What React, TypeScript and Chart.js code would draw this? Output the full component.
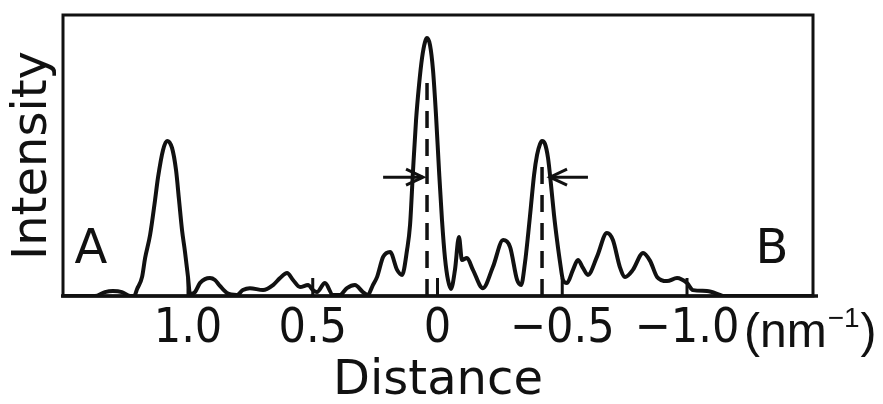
import React, { useEffect, useRef } from "react";
import { Chart, registerables } from "chart.js";

Chart.register(...registerables);

// Distance (nm^-1), axis runs from +1.5 (left) to -1.5 (right)
const distance = [
  1.501, 1.373, 1.333, 1.301, 1.265, 1.232, 1.216, 1.204, 1.184, 1.172, 1.152, 1.132, 1.12, 1.1,
  1.084, 1.064, 1.048, 1.036, 1.024, 1.012, 1.0, 0.992, 0.972, 0.952, 0.932, 0.912, 0.892, 0.872,
  0.844, 0.804, 0.78, 0.752, 0.699, 0.659, 0.631, 0.603, 0.579, 0.551, 0.519, 0.499, 0.483, 0.451,
  0.419, 0.391, 0.363, 0.331, 0.299, 0.279, 0.259, 0.242, 0.218, 0.19, 0.162, 0.142, 0.122, 0.11,
  0.098, 0.086, 0.074, 0.062, 0.05, 0.042, 0.03, 0.018, 0.006, -0.006, -0.018, -0.03, -0.042,
  -0.054, -0.07, -0.086, -0.098, -0.118, -0.142, -0.182, -0.222, -0.263, -0.291, -0.319, -0.335,
  -0.351, -0.363, -0.375, -0.387, -0.399, -0.411, -0.419, -0.431, -0.443, -0.455, -0.467, -0.479,
  -0.491, -0.503, -0.519, -0.543, -0.563, -0.583, -0.603, -0.639, -0.679, -0.703, -0.731, -0.752,
  -0.783, -0.824, -0.852, -0.88, -0.92, -0.96, -1.0, -1.024, -1.08, -1.132, -1.144, -1.505,
];

// Intensity (arbitrary units, 0 = baseline, 100 = top of frame)
const intensity = [
  0, 0, 1.4, 1.8, 1.4, 0, 0, 2.5, 6.8, 13.5, 21.7, 34.2, 42.3, 52.0,
  55.2, 52.7, 44.8, 34.2, 23.5, 15.7, 6.8, 0.7, 1.4, 4.6, 6.0, 6.4, 5.7, 3.6,
  1.1, 0.4, 2.1, 2.8, 2.1, 3.9, 6.4, 8.2, 5.7, 3.2, 3.9, 2.1, 1.4, 4.6,
  0.4, 0.4, 2.8, 3.9, 1.4, 0.4, 3.9, 6.8, 13.9, 15.7, 9.3, 7.5, 16.4, 25.3,
  44.8, 62.6, 75.1, 84.7, 90.4, 91.8, 89.3, 80.4, 64.4, 44.8, 27.0, 13.5, 5.7,
  2.5, 9.3, 21.0, 12.8, 13.5, 9.3, 2.8, 10.3, 19.9, 17.4, 5.7, 3.9,
  12.1, 21.7, 32.4, 43.1, 50.2, 54.1, 55.2, 54.1, 49.1, 39.5, 28.8, 19.9,
  12.1, 5.7, 4.6, 9.3, 12.8, 10.0, 7.5, 13.9, 22.4, 19.9, 10.3, 6.8,
  9.3, 15.3, 12.5, 6.8, 5.3, 6.4, 4.6, 2.1, 1.8, 0.4, 0, 0,
];

const xTicks = [1.0, 0.5, 0, -0.5, -1.0];
const xTickLabels = ["1.0", "0.5", "0", "\u22120.5", "\u22121.0"];

// Dashed peak-centre markers
const dashedX = [0.042, -0.419];
const dashedTop = [78, 49.5];

// Width arrows: [from, to] in distance units, at a common intensity level
const arrowLevel = 42.3;
const arrowLeft = [0.218, 0.058];
const arrowRight = [-0.603, -0.451];

// End labels
const endLabels = ["A", "B"];
const endLabelX = [1.389, -1.341];
const endLabelY = 16.4;

const INK = "#111111";
const NARROW = "'Liberation Sans Narrow', 'DejaVu Sans Condensed', 'Liberation Sans', sans-serif";
const SANS = "'DejaVu Sans', 'Liberation Sans', sans-serif";
const REG = "'Liberation Sans', 'DejaVu Sans', sans-serif";

const decorPlugin = {
  id: "decor",
  afterDatasetsDraw(chart: any) {
    const { ctx, chartArea } = chart;
    const xs = chart.scales.x;
    const ys = chart.scales.y;
    const { left, right, top, bottom } = chartArea;
    ctx.save();
    ctx.strokeStyle = INK;
    ctx.fillStyle = INK;
    ctx.lineCap = "butt";

    // frame
    ctx.lineWidth = 3;
    ctx.strokeRect(left, top, right - left, bottom - top);
    ctx.lineWidth = 3.5;
    ctx.beginPath();
    ctx.moveTo(left - 2, bottom);
    ctx.lineTo(right + 5, bottom);
    ctx.stroke();

    // inner tick marks
    ctx.lineWidth = 3;
    xTicks.forEach((v) => {
      const px = xs.getPixelForValue(v);
      ctx.beginPath();
      ctx.moveTo(px, bottom);
      ctx.lineTo(px, bottom - 18);
      ctx.stroke();
    });

    // arrows
    const drawArrow = (from: number, to: number) => {
      const x0 = xs.getPixelForValue(from);
      const x1 = xs.getPixelForValue(to);
      const y = ys.getPixelForValue(arrowLevel);
      const dir = Math.sign(x1 - x0);
      ctx.lineWidth = 3;
      ctx.beginPath();
      ctx.moveTo(x0, y);
      ctx.lineTo(x1, y);
      ctx.stroke();
      ctx.beginPath();
      ctx.moveTo(x1 - dir * 17, y - 8);
      ctx.lineTo(x1, y);
      ctx.lineTo(x1 - dir * 17, y + 8);
      ctx.stroke();
    };
    drawArrow(arrowLeft[0], arrowLeft[1]);
    drawArrow(arrowRight[0], arrowRight[1]);

    // A / B
    ctx.font = `48px ${SANS}`;
    ctx.textAlign = "center";
    ctx.textBaseline = "middle";
    endLabels.forEach((t, i) => {
      ctx.fillText(t, xs.getPixelForValue(endLabelX[i]), ys.getPixelForValue(endLabelY) + 1);
    });

    // unit label after last tick label
    const ux = xs.getPixelForValue(-1.0) + 57;
    const uy = bottom + 51;
    ctx.textAlign = "left";
    ctx.textBaseline = "alphabetic";
    ctx.font = `48px ${REG}`;
    ctx.fillText("(nm", ux, uy);
    let cx = ux + ctx.measureText("(nm").width + 1;
    ctx.font = `28px ${REG}`;
    ctx.fillText("\u22121", cx, uy - 20);
    cx += ctx.measureText("\u22121").width + 1;
    ctx.font = `48px ${REG}`;
    ctx.fillText(")", cx, uy);

    ctx.restore();
  },
};

export default function App() {
  const ref = useRef<HTMLCanvasElement | null>(null);

  useEffect(() => {
    if (!ref.current) return;
    const curve = distance.map((x, i) => ({ x, y: intensity[i] }));
    const dashedSets = dashedX.map((x, i) => ({
      data: [
        { x, y: 0 },
        { x, y: dashedTop[i] },
      ],
      borderColor: INK,
      borderWidth: 3.5,
      borderDash: [17, 11],
      pointRadius: 0,
      fill: false,
    }));

    const chart = new Chart(ref.current, {
      type: "line",
      data: {
        datasets: [
          {
            data: curve,
            borderColor: INK,
            borderWidth: 4,
            pointRadius: 0,
            fill: false,
            cubicInterpolationMode: "monotone",
          } as any,
          ...dashedSets,
        ],
      },
      options: {
        animation: false,
        responsive: false,
        maintainAspectRatio: false,
        layout: { padding: { left: 0, top: 15, right: 70, bottom: 0 } },
        plugins: { legend: { display: false }, tooltip: { enabled: false } },
        scales: {
          x: {
            type: "linear",
            reverse: true,
            min: -1.505,
            max: 1.501,
            grid: { display: false, drawTicks: false },
            border: { display: false },
            afterBuildTicks: (scale: any) => {
              scale.ticks = xTicks.map((v) => ({ value: v }));
            },
            afterFit: (scale: any) => {
              scale.height = 108;
            },
            ticks: {
              autoSkip: false,
              maxRotation: 0,
              padding: 9.5,
              color: INK,
              font: { family: NARROW, size: 48, lineHeight: 1 },
              callback: (value: any) => {
                const idx = xTicks.findIndex((t) => Math.abs(t - Number(value)) < 1e-6);
                return idx >= 0 ? xTickLabels[idx] : "";
              },
            },
            title: {
              display: true,
              text: "Distance",
              color: INK,
              padding: 0,
              font: { family: SANS, size: 48, lineHeight: 0.92 },
            },
          },
          y: {
            min: 0,
            max: 100,
            grid: { display: false, drawTicks: false },
            border: { display: false },
            ticks: { display: false },
            afterFit: (scale: any) => {
              scale.width = 63;
            },
            title: {
              display: true,
              text: "Intensity",
              color: INK,
              padding: { top: 9.4, bottom: 0 },
              font: { family: SANS, size: 48, lineHeight: 1 },
            },
          },
        },
      } as any,
      plugins: [decorPlugin],
    });
    return () => chart.destroy();
  }, []);

  return (
    <div style={{ position: "fixed", left: 0, top: 0, width: 883, height: 404, background: "#fff" }}>
      <canvas ref={ref} width={883} height={404} style={{ display: "block", width: 883, height: 404 }} />
    </div>
  );
}
